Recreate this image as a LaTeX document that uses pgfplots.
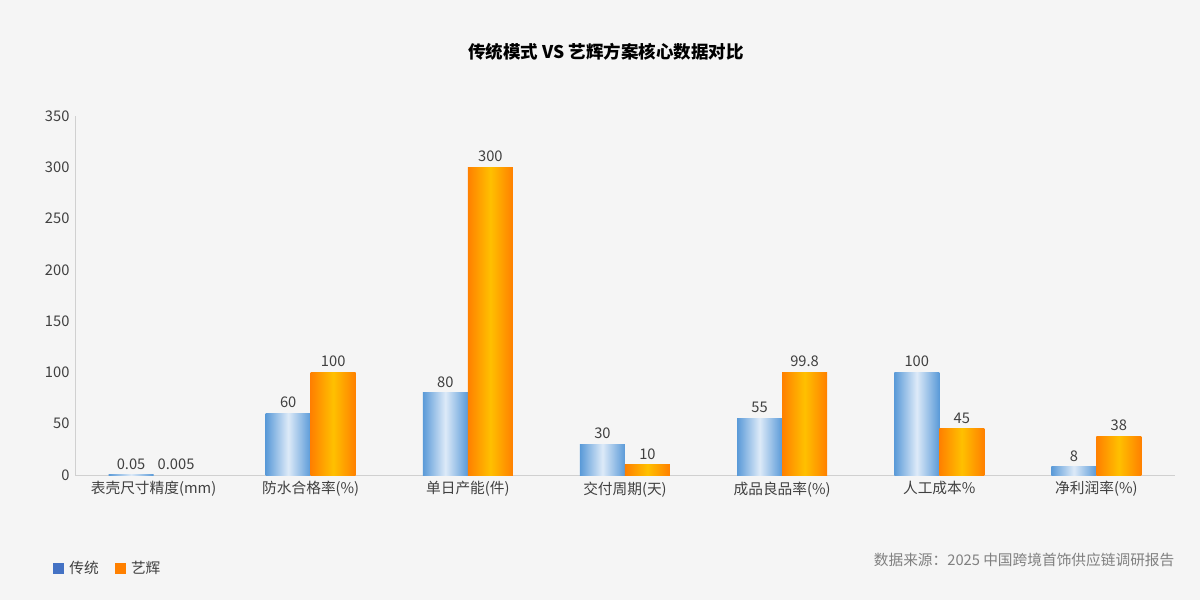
\documentclass[border=0pt]{standalone}
\usepackage{fontspec}
\setmainfont{Noto Sans CJK SC}
\usepackage{pgfplots}
\pgfplotsset{compat=1.18}
\definecolor{bg}{HTML}{F5F5F5}
\definecolor{bluee}{HTML}{5A9AD8}
\definecolor{bluec}{HTML}{DDEAF8}
\definecolor{orge}{HTML}{FF8000}
\definecolor{orgc}{HTML}{FFC000}
\definecolor{axisgray}{HTML}{D0D0D0}
\definecolor{txt}{HTML}{404040}
\definecolor{legblue}{HTML}{4472C4}
\definecolor{legorg}{HTML}{FF8000}
\begin{document}
\begin{tikzpicture}
\fill[bg] (0,0) rectangle (1200pt,600pt);
\begin{axis}[
  at={(75pt,125pt)}, anchor=south west,
  scale only axis, width=1100pt, height=359pt,
  ymin=0, ymax=350, ytick={0,50,...,350},
  xmin=-0.5, xmax=6.5,
  xtick={0,...,6},
  xticklabels={表壳尺寸精度(mm),防水合格率(\%),单日产能(件),交付周期(天),成品良品率(\%),人工成本\%,净利润率(\%)},
  axis x line*=bottom, axis y line*=left,
  axis line style={axisgray, line width=0.8pt, -},
  major tick length=0pt,
  /pgf/number format/assume math mode=true,
  tick label style={font=\fontsize{14.7}{17}\selectfont, text=txt},
  xticklabel style={yshift=-3pt},
  yticklabel style={xshift=-2pt},
  bar width=45pt,
  nodes near coords, point meta=explicit symbolic,
  nodes near coords style={font=\fontsize{14.7}{17}\selectfont, text=txt, yshift=2pt},
  bluebar/.style={ybar, bar shift=-22.5pt, draw=none, left color=bluee, right color=bluee, middle color=bluec, forget plot,
    every node near coord/.append style={xshift=-22.5pt}},
  orgbar/.style={ybar, bar shift=22.5pt, draw=none, left color=orge, right color=orge, middle color=orgc, forget plot,
    every node near coord/.append style={xshift=22.5pt}},
  legend columns=2,
  legend style={at={(-0.0227,-0.259)}, anchor=west, draw=none, fill=none,
    font=\fontsize{14.7}{17}\selectfont, text=txt,
    /tikz/every even column/.append style={column sep=14pt}},
  clip=false,
]
\addplot[bluebar] coordinates {(0,0.05) [0.05]};
\addplot[bluebar] coordinates {(1,60) [60]};
\addplot[bluebar] coordinates {(2,80) [80]};
\addplot[bluebar] coordinates {(3,30) [30]};
\addplot[bluebar] coordinates {(4,55) [55]};
\addplot[bluebar] coordinates {(5,100) [100]};
\addplot[bluebar] coordinates {(6,8) [8]};
\addplot[orgbar] coordinates {(0,0.005) [0.005]};
\addplot[orgbar] coordinates {(1,100) [100]};
\addplot[orgbar] coordinates {(2,300) [300]};
\addplot[orgbar] coordinates {(3,10) [10]};
\addplot[orgbar] coordinates {(4,99.8) [99.8]};
\addplot[orgbar] coordinates {(5,45) [45]};
\addplot[orgbar] coordinates {(6,38) [38]};
\addlegendimage{legend image code/.code={\path[draw=none,fill=none] (0pt,0pt) -- (14pt,0pt); \fill[legblue] (0pt,-5pt) rectangle (10pt,5pt);}}
\addlegendentry{传统}
\addlegendimage{legend image code/.code={\path[draw=none,fill=none] (0pt,0pt) -- (14pt,0pt); \fill[legorg] (0pt,-5pt) rectangle (10pt,5pt);}}
\addlegendentry{艺辉}
\node[font=\fontsize{17.5}{20}\selectfont\bfseries, text=black] at (axis description cs:0.4827,1.178) {传统模式 VS 艺辉方案核心数据对比};
\node[font=\fontsize{14.7}{17}\selectfont, text={rgb,255:red,128;green,128;blue,128}, anchor=east] at (axis description cs:1.0027,-0.237) {数据来源：2025 中国跨境首饰供应链调研报告};
\end{axis}
\end{tikzpicture}
\end{document}
